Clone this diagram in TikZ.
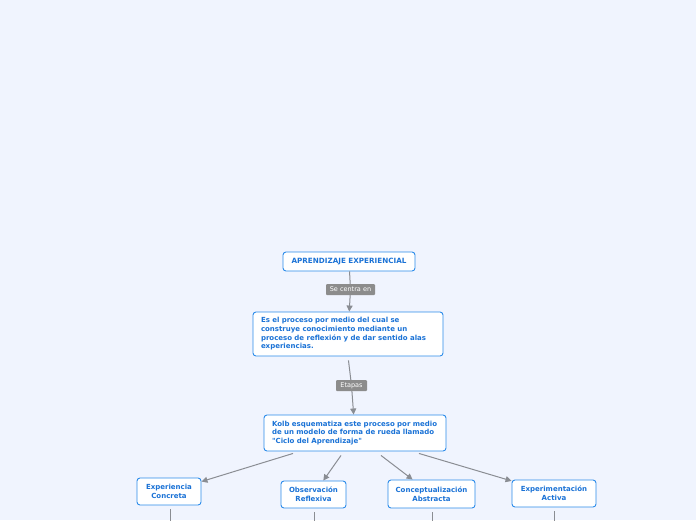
\documentclass[tikz,border=0pt]{standalone}
\usepackage{fontspec}
\newfontfamily\dv{DejaVu Sans}
\usetikzlibrary{arrows.meta}
\definecolor{bg}{HTML}{F0F4FE}
\definecolor{bord}{HTML}{2B8BEA}
\definecolor{txt}{HTML}{1A72D6}
\definecolor{conn}{HTML}{8A8D93}
\definecolor{lblf}{HTML}{8C8C8C}
\tikzset{
  box/.style={draw=bord, fill=white, line width=0.9pt, rounded corners=3pt, text=txt,
    font=\dv\bfseries\fontsize{7}{8.7}\selectfont, inner sep=0pt},
  lbl/.style={fill=lblf, text=white, rounded corners=1pt, inner sep=0pt,
    font=\dv\fontsize{6.5}{7}\selectfont, minimum height=11pt},
  con/.style={draw=conn, line width=1pt},
  arr/.style={con, -{Triangle[length=6pt,width=6pt]}},
}
\begin{document}
\begin{tikzpicture}[x=1pt,y=-1pt]
\useasboundingbox[fill=bg] (0,0) rectangle (696,520);
\node[box, minimum width=132pt, minimum height=19pt, font=\dv\bfseries\fontsize{7.2}{8.7}\selectfont] (top) at (349,261.5) {APRENDIZAJE EXPERIENCIAL};
\node[lbl, minimum width=49pt] (l1) at (350.5,289.5) {Se centra en};
\node[box, minimum width=190pt, minimum height=44pt, text width=174pt, align=left] (b2) at (348,334)
  {Es el proceso por medio del cual se\\ construye conocimiento mediante un\\ proceso de reflexión y de dar sentido alas\\ experiencias.};
\node[lbl, minimum width=31pt] (l2) at (351.5,385.5) {Etapas};
\node[box, minimum width=182pt, minimum height=36pt, text width=166pt, align=left] (b3) at (355,433)
  {Kolb esquematiza este proceso por medio\\ de un modelo de forma de rueda llamado\\ "Ciclo del Aprendizaje"};
\node[box, minimum width=64pt, minimum height=27pt, align=center] (c1) at (169,491.5) {Experiencia\\Concreta};
\node[box, minimum width=65pt, minimum height=27pt, align=center] (c2) at (313.5,494.5) {Observación\\Reflexiva};
\node[box, minimum width=87pt, minimum height=28pt, align=center] (c3) at (431.5,494) {Conceptualización\\Abstracta};
\node[box, minimum width=84pt, minimum height=27pt, align=center] (c4) at (554,493.5) {Experimentación\\Activa};
\coordinate (e1) at (170,522);
\coordinate (e2) at (314,522);
\coordinate (e3) at (432,522);
\coordinate (e4) at (554,522);
\draw[con] (top) -- (l1);
\draw[arr] (l1) -- (b2);
\draw[con, shorten <=4pt] (b2.south) -- (l2);
\draw[arr] (l2) -- (b3);
\draw[arr] ([xshift=-62pt,yshift=-2pt]b3.south) -- (c1);
\draw[arr] ([xshift=-14pt,yshift=-4pt]b3.south) -- (c2);
\draw[arr] ([xshift=26pt,yshift=-4pt]b3.south) -- (c3);
\draw[arr] ([xshift=64pt,yshift=-2pt]b3.south) -- (c4);
\draw[con, shorten <=4pt] (c1.south -| e1) -- (e1);
\draw[con, shorten <=4pt] (c2.south -| e2) -- (e2);
\draw[con, shorten <=4pt] (c3.south -| e3) -- (e3);
\draw[con, shorten <=4pt] (c4.south -| e4) -- (e4);
\end{tikzpicture}
\end{document}
